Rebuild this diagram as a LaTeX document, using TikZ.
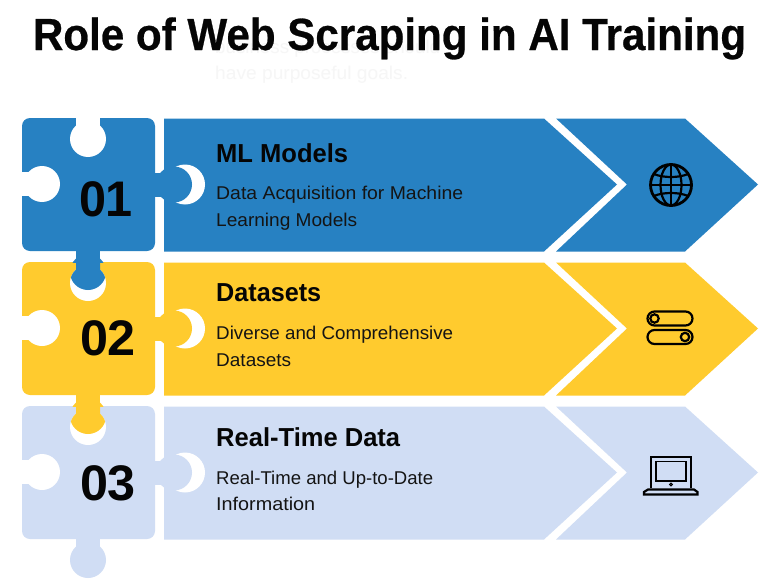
\documentclass[tikz,border=0pt]{standalone}
\usepackage{fontspec}
\setmainfont{Liberation Sans}
\newfontfamily\heavyfont[FakeBold=0.6]{Liberation Sans Bold}
\definecolor{rowblue}{HTML}{2781C2}
\definecolor{rowyellow}{HTML}{FFCB2E}
\definecolor{rowpale}{HTML}{D0DDF4}
\definecolor{ghost}{HTML}{F6F6F6}
\definecolor{ink}{HTML}{050505}
\definecolor{bodyink}{HTML}{141414}
\tikzset{
  titletext/.style={anchor=base,inner sep=0pt,text=ink,font=\fontsize{45}{45}\selectfont\heavyfont},
  numtext/.style={anchor=center,inner sep=0pt,text=ink,font=\fontsize{50}{50}\selectfont\bfseries},
  headtext/.style={anchor=base west,inner sep=0pt,text=ink,font=\fontsize{26}{26}\selectfont\bfseries},
  bodytext/.style={anchor=base west,inner sep=0pt,text=bodyink,font=\fontsize{18.5}{18.5}\selectfont},
  ghosttext/.style={anchor=base west,inner sep=0pt,text=ghost,font=\fontsize{18.5}{18.5}\selectfont},
  icon/.style={draw=black,line width=2.2pt,fill=none},
}
\newcommand{\fitw}[2]{\resizebox{#1pt}{\height}{#2}}
\newcommand{\piecebody}[2]{% colour, top
  \fill[#1,rounded corners=8pt] (22,#2) rectangle (155,#2+133);
  \fill[white] (76,#2-1) rectangle (100,#2+14);
  \fill[white] (88,#2+21) circle[radius=18];
  \fill[white] (21,#2+54) rectangle (36,#2+78);
  \fill[white] (42,#2+66) circle[radius=18];
}
\newcommand{\rowarrows}[2]{% colour, top
  \fill[#1] (164,#2+0.5) -- (544,#2+0.5) -- (617,#2+66.5) -- (544,#2+133.5) -- (164,#2+133.5) -- cycle;
  \fill[#1] (556,#2+0.5) -- (685,#2+0.5) -- (758,#2+66.5) -- (685,#2+133.5) -- (556,#2+133.5) -- (627,#2+66.5) -- cycle;
  \fill[white] (185,#2+66.5) circle[radius=20];
}
\newcommand{\sidetab}[2]{% colour, top
  \fill[#1] (154,#2+54.5) rectangle (176,#2+78.5);
  \fill[#1] (174,#2+66.5) circle[radius=18];
}
\newcommand{\tabshape}[2]{% colour, top
  \fill[#1] (76,#2+132) rectangle (100,#2+150);
  \fill[#1] (88,#2+154) circle[radius=18];
}
% bottom tab of a row, seen only through the gap and the notch of the next row
\newcommand{\clippedtab}[2]{% colour, top
  \begin{scope}\clip (60,#2+132) rectangle (116,#2+144);\tabshape{#1}{#2}\end{scope}
  \begin{scope}\clip (76,#2+143) rectangle (100,#2+158);\tabshape{#1}{#2}\end{scope}
  \begin{scope}\clip (88,#2+165) circle[radius=18];\tabshape{#1}{#2}\end{scope}
}
\begin{document}
\begin{tikzpicture}[x=1pt,y=-1pt]
\useasboundingbox (0,0) rectangle (768,586);
\fill[white] (0,0) rectangle (768,586);
% ghost text
\node[ghosttext] (ghostzero) at (215,53) {\fitw{225}{business processes should}};
\node[ghosttext] (ghostone) at (215,80) {\fitw{193}{have purposeful goals.}};
% title
\node[titletext] (title) at (389.5,50) {\fitw{713}{Role of Web Scraping in AI Training}};
% rows
\piecebody{rowpale}{406}
\piecebody{rowyellow}{262}
\piecebody{rowblue}{118}
\rowarrows{rowblue}{118}
\rowarrows{rowyellow}{262}
\rowarrows{rowpale}{406}
\sidetab{rowpale}{406}
\sidetab{rowyellow}{262}
\sidetab{rowblue}{118}
\tabshape{rowpale}{406}
\clippedtab{rowyellow}{262}
\clippedtab{rowblue}{118}
% numbers
\node[numtext] (numone) at (106,199) {\fitw{54}{01}};
\node[numtext] (numtwo) at (108,338) {\fitw{56}{02}};
\node[numtext] (numthree) at (108,483) {\fitw{56}{03}};
% texts
\node[headtext] (headone) at (216,162) {\fitw{132}{ML Models}};
\node[bodytext] (bodyonea) at (216,199) {\fitw{247}{Data Acquisition for Machine}};
\node[bodytext] (bodyoneb) at (216,226) {\fitw{141}{Learning Models}};
\node[headtext] (headtwo) at (216,301) {\fitw{105}{Datasets}};
\node[bodytext] (bodytwoa) at (216,339) {\fitw{237}{Diverse and Comprehensive}};
\node[bodytext] (bodytwob) at (216,366) {\fitw{75}{Datasets}};
\node[headtext] (headthree) at (216,446) {\fitw{184}{Real-Time Data}};
\node[bodytext] (bodythreea) at (216,484) {\fitw{217}{Real-Time and Up-to-Date}};
\node[bodytext] (bodythreeb) at (216,510) {\fitw{99}{Information}};
% globe
\begin{scope}[shift={(671,185)}]
  \draw[icon,line width=2.8pt] (0,0) circle[radius=20.5];
  \draw[icon] (0,-20.5) -- (0,20.5);
  \draw[icon] (0,0) ellipse[x radius=10.5,y radius=20.5];
  \draw[icon] (-20.5,0) -- (20.5,0);
  \draw[icon] (-17,-11) .. controls (-8,-7) and (8,-7) .. (17,-11);
  \draw[icon] (-17,11) .. controls (-8,7) and (8,7) .. (17,11);
\end{scope}
% toggles
\draw[icon,rounded corners=7pt] (647.5,311.5) rectangle (692.5,325.5);
\draw[icon,rounded corners=7pt] (647.5,330) rectangle (692.5,344);
\draw[icon] (654.5,318.5) circle[radius=4.2];
\draw[icon] (685,337) circle[radius=4.2];
% laptop
\draw[icon,line width=1.8pt] (651,488) -- (651,457) -- (691,457) -- (691,488);
\draw[icon,line width=1.8pt] (656,461.5) rectangle (686,481);
\draw[icon,line width=1pt] (671,484.5) circle[radius=1.4];
\draw[icon,line width=2.2pt] (648,489.5) -- (694,489.5) -- (697.5,492) -- (697.5,494.5) -- (644,494.5) -- (644,492) -- cycle;
\end{tikzpicture}
\end{document}
